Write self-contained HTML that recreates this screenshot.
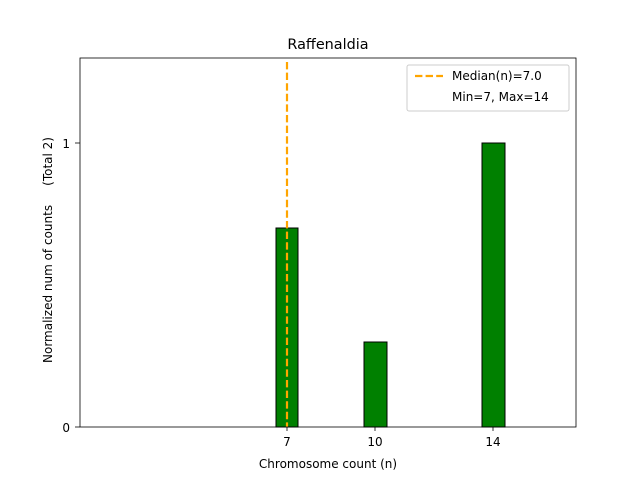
<!DOCTYPE html>
<html><head><style>body{margin:0;background:#fff}</style></head><body>
<svg width="640" height="480" xmlns="http://www.w3.org/2000/svg" font-family="DejaVu Sans, Liberation Sans, sans-serif">
<rect width="640" height="480" fill="#fff"/>
<text x="328" y="49" font-size="14.4" text-anchor="middle">Raffenaldia</text>
<g fill="#008000" stroke="#000" stroke-width="1">
<rect x="276" y="228" width="22" height="199"/>
<rect x="364" y="342" width="23" height="85"/>
<rect x="482" y="143" width="23" height="284"/>
</g>
<line x1="287" y1="62" x2="287" y2="427" stroke="#ffa500" stroke-width="2.2" stroke-dasharray="7.4,3.2"/>
<rect x="80" y="58" width="496" height="369" fill="none" stroke="#000" stroke-width="0.8"/>
<g stroke="#000" stroke-width="0.8">
<line x1="287" y1="427" x2="287" y2="431"/>
<line x1="375" y1="427" x2="375" y2="431"/>
<line x1="493" y1="427" x2="493" y2="431"/>
<line x1="75" y1="427" x2="80" y2="427"/>
<line x1="75" y1="143" x2="80" y2="143"/>
</g>
<g font-size="12" text-anchor="middle">
<text x="287" y="446">7</text>
<text x="375" y="446">10</text>
<text x="493" y="446">14</text>
<text x="328" y="468">Chromosome count (n)</text>
</g>
<g font-size="12" text-anchor="end">
<text x="70" y="432">0</text>
<text x="70" y="148">1</text>
</g>
<text transform="translate(52,250) rotate(-90)" font-size="12" text-anchor="middle" xml:space="preserve">Normalized num of counts     (Total 2)</text>
<rect x="407" y="65" width="162" height="46" fill="#fff" stroke="#ccc" rx="2"/>
<line x1="415" y1="76" x2="443" y2="76" stroke="#ffa500" stroke-width="2.2" stroke-dasharray="7.4,3.2"/>
<text x="452" y="80" font-size="12">Median(n)=7.0</text>
<text x="452" y="101" font-size="12">Min=7, Max=14</text>
</svg>
</body></html>
